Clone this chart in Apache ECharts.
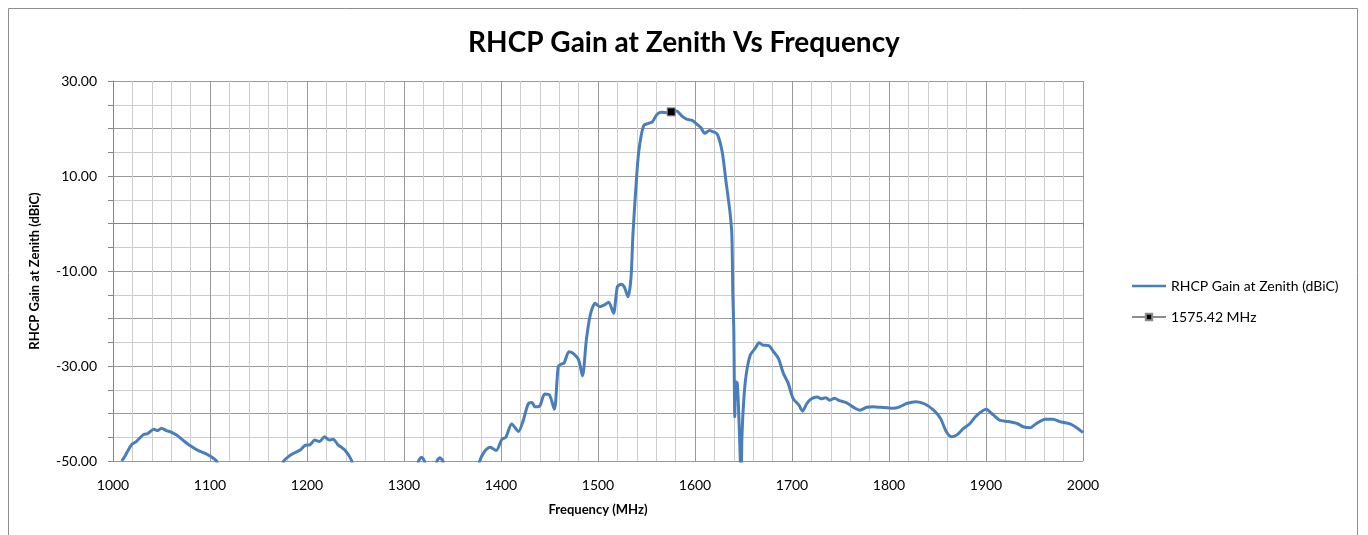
<!DOCTYPE html>
<html>
<head>
<meta charset="utf-8">
<script src="https://cdn.jsdelivr.net/npm/echarts@6/dist/echarts.min.js"></script>
<style>
  html, body { margin: 0; padding: 0; background: #fff; }
  #main { width: 1368px; height: 535px; }
</style>
</head>
<body>
<div id="main"></div>
<script>
// frequency (MHz) and RHCP gain at zenith (dBiC)
const freq = [1009, 1012, 1019, 1024, 1031, 1036, 1042, 1046, 1050, 1055, 1060, 1066, 1072, 1079, 1087, 1095, 1102, 1107, 1111,
  1172, 1176, 1182, 1188, 1193, 1198, 1203, 1208, 1213, 1218, 1223, 1227, 1232, 1239, 1246, 1250,
  1312, 1315, 1318, 1321, 1324, 1331, 1334, 1337, 1340, 1343,
  1374, 1378, 1383, 1389, 1395, 1401, 1405, 1411, 1418, 1423, 1428, 1432, 1435, 1440, 1445, 1450, 1455, 1459, 1462, 1465,
  1470, 1474, 1480, 1484, 1488, 1492, 1497, 1502, 1506, 1511, 1516, 1520, 1524, 1527, 1531, 1534, 1536, 1539, 1542, 1547,
  1552, 1556, 1561, 1566, 1571, 1576, 1581, 1586, 1591, 1597, 1602, 1606, 1610, 1615, 1619, 1623, 1628, 1632, 1636, 1638,
  1639, 1640, 1640.5, 1641, 1642, 1643.6, 1645.7, 1646.7, 1647.5, 1648.4, 1650.5, 1653, 1657, 1662, 1666, 1670, 1676, 1681,
  1686, 1691, 1696, 1701, 1707, 1711, 1715, 1720, 1726, 1730, 1735, 1739, 1744, 1749, 1756, 1765, 1770, 1777, 1784, 1791,
  1798, 1804, 1811, 1818, 1828, 1837, 1846, 1853, 1859, 1864.5, 1870, 1877, 1883.5, 1890, 1900, 1907.5, 1914, 1923, 1932,
  1938.5, 1945.5, 1952, 1961, 1969, 1976, 1986.6, 1993.5, 2000];
const gain = [-50.0, -49.1, -46.6, -45.9, -44.5, -44.2, -43.3, -43.6, -43.1, -43.6, -43.9, -44.6, -45.6, -46.7, -47.7, -48.4, -49.2, -50.1, -53,
  -53, -50.0, -48.9, -48.2, -47.7, -46.7, -46.6, -45.6, -45.9, -44.9, -45.6, -45.4, -46.6, -47.7, -49.9, -53,
  -53, -50.0, -49.2, -50.0, -53, -53, -50.0, -49.3, -50.0, -53,
  -53, -50.0, -48.0, -47.1, -47.8, -45.4, -45.0, -42.2, -43.8, -41.4, -38.0, -37.7, -38.6, -38.4, -35.9, -36.1, -39.1, -30.1, -29.6, -29.4,
  -27.0, -27.3, -28.7, -32.1, -24.5, -19.3, -16.8, -17.5, -17.2, -16.6, -18.9, -13.3, -12.8, -13.3, -15.4, -11.5, -2.4, 7.4, 15.1, 20.6,
  21.1, 21.4, 23.0, 23.4, 23.3, 23.5, 23.7, 22.7, 22.0, 21.7, 20.9, 20.2, 19.0, 19.6, 19.3, 18.8, 15.1, 8.8, 2.5, -2.4,
  -15.1, -22.4, -33.0, -40.7, -33.3, -33.6, -43.5, -50.0, -56, -44.9, -36.5, -31.5, -27.7, -26.3, -25.1, -25.6, -25.7, -27.0,
  -28.4, -31.5, -33.6, -36.8, -38.2, -39.5, -38.0, -36.9, -36.5, -36.9, -36.7, -37.2, -36.8, -37.3, -37.7, -38.9, -39.3, -38.7, -38.6, -38.7,
  -38.8, -38.9, -38.6, -37.9, -37.5, -38.0, -39.3, -41.0, -43.8, -44.9, -44.5, -43.1, -42.1, -40.5, -39.1, -40.3, -41.4, -41.7, -42.1,
  -42.8, -43.0, -42.1, -41.2, -41.2, -41.7, -42.2, -43.0, -44.0];
const gpsFreq = [1575.42];
const gpsGain = [23.5];

const seriesName = 'RHCP Gain at Zenith (dBiC)';
const markerName = '1575.42 MHz';
const font = 'Lato, "Open Sans", sans-serif';

const myChart = echarts.init(document.getElementById('main'));
myChart.setOption({
  animation: false,
  backgroundColor: '#fff',
  graphic: [{
    type: 'rect',
    shape: { x: 8.5, y: 8.5, width: 1349, height: 540 },
    style: { fill: 'none', stroke: '#8e8e8e', lineWidth: 1 },
    silent: true
  }],
  title: {
    text: 'RHCP Gain at Zenith Vs Frequency',
    left: 'center',
    top: 24,
    textStyle: { fontFamily: font, fontSize: 28, fontWeight: 'bold', color: '#000' }
  },
  legend: {
    orient: 'vertical',
    left: 1126,
    top: 274,
    itemGap: 17,
    itemWidth: 34,
    itemHeight: 8,
    textStyle: { fontFamily: font, fontSize: 14, color: '#000' },
    data: [
      { name: seriesName, icon: 'path://M0,0H40V3H0Z' },
      { name: markerName }
    ]
  },
  grid: { left: 113, top: 81, width: 970, height: 380, containLabel: false },
  xAxis: {
    type: 'value',
    min: 1000,
    max: 2000,
    interval: 100,
    name: 'Frequency (MHz)',
    nameLocation: 'middle',
    nameGap: 42,
    nameTextStyle: { fontFamily: font, fontSize: 13, fontWeight: 'bold', color: '#000' },
    axisLine: { show: true, lineStyle: { color: '#868686', width: 1 } },
    axisTick: { show: true, length: 5, lineStyle: { color: '#868686' } },
    axisLabel: { fontFamily: font, fontSize: 14, color: '#000', margin: 17, formatter: v => String(v) },
    splitLine: { show: true, lineStyle: { color: '#9a9a9a', width: 1 } },
    minorTick: { show: false, splitNumber: 5 },
    minorSplitLine: { show: true, lineStyle: { color: '#cdcdcd', width: 1 } }
  },
  yAxis: {
    type: 'value',
    min: -50,
    max: 30,
    interval: 10,
    name: 'RHCP Gain at Zenith (dBiC)',
    nameLocation: 'middle',
    nameGap: 72,
    nameRotate: 90,
    nameTextStyle: { fontFamily: font, fontSize: 13, fontWeight: 'bold', color: '#000' },
    axisLine: { show: true, lineStyle: { color: '#868686', width: 1 } },
    axisTick: { show: true, length: 5, lineStyle: { color: '#868686' } },
    axisLabel: {
      fontFamily: font, fontSize: 14, color: '#000', margin: 16,
      formatter: v => ((v + 50) % 20 === 0 ? v.toFixed(2) : '')
    },
    splitLine: { show: true, lineStyle: { color: '#9a9a9a', width: 1 } },
    minorTick: { show: true, splitNumber: 2, length: 5, lineStyle: { color: '#868686' } },
    minorSplitLine: { show: true, lineStyle: { color: '#cdcdcd', width: 1 } }
  },
  series: [
    {
      name: seriesName,
      type: 'line',
      data: freq.map((f, i) => [f, gain[i]]),
      showSymbol: false,
      symbol: 'none',
      smooth: 0.25,
      clip: true,
      lineStyle: { color: '#4a7ebb', width: 3 },
      itemStyle: { color: '#4a7ebb' },
      z: 3
    },
    {
      name: markerName,
      type: 'line',
      data: gpsFreq.map((f, i) => [f, gpsGain[i]]),
      symbol: 'rect',
      symbolSize: 8,
      lineStyle: { color: '#8c8c8c', width: 2 },
      itemStyle: { color: '#000', borderColor: '#8c8c8c', borderWidth: 1 },
      z: 4
    }
  ]
});
</script>
</body>
</html>
